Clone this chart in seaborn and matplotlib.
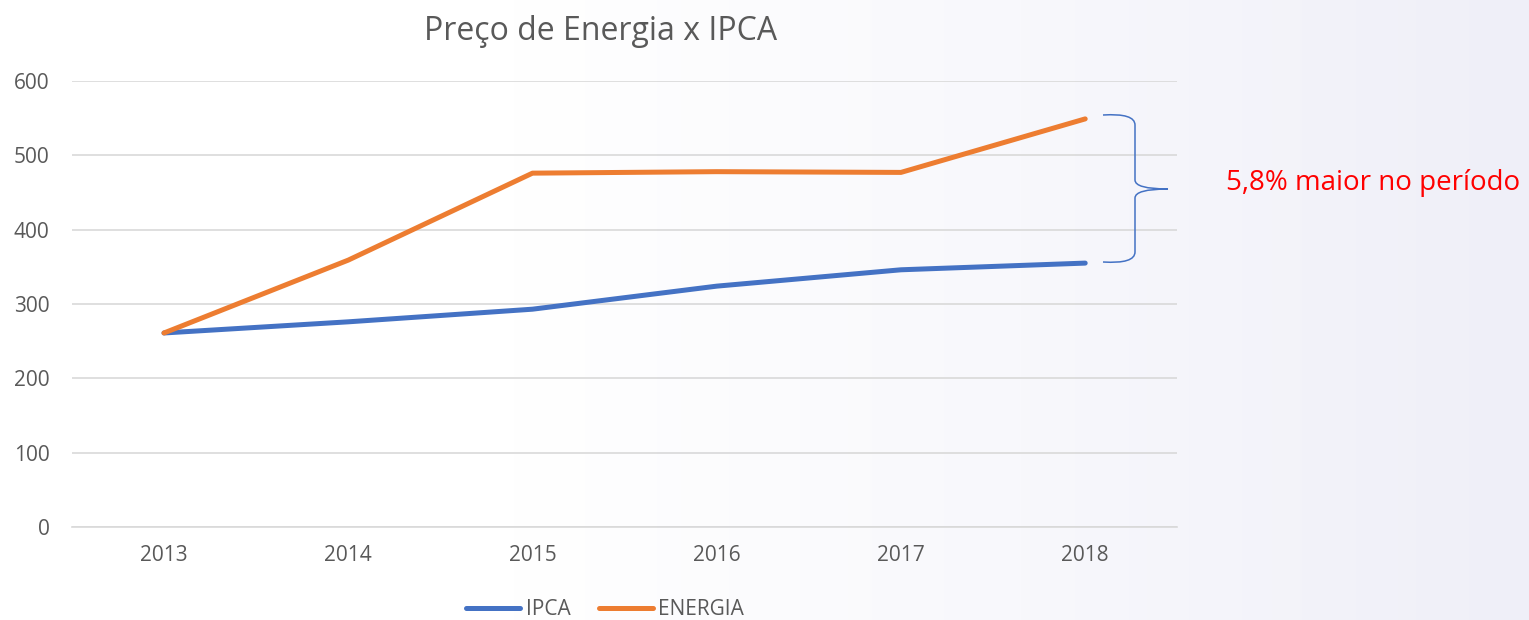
import seaborn as sns
import matplotlib.pyplot as plt
import pandas as pd
import numpy as np
from matplotlib.path import Path
from matplotlib.patches import PathPatch
from matplotlib.lines import Line2D
from matplotlib.colors import LinearSegmentedColormap

anos = ["2013", "2014", "2015", "2016", "2017", "2018"]
ipca = [261, 276, 293, 324, 346, 355]
energia = [261, 359, 476, 478, 477, 549]

df = pd.DataFrame({
    "ano": anos * 2,
    "valor": ipca + energia,
    "serie": ["IPCA"] * len(anos) + ["ENERGIA"] * len(anos),
})

sns.set_style("white")
plt.rcParams['font.family'] = ['Open Sans', 'DejaVu Sans']

fig = plt.figure(figsize=(15.29, 6.2), dpi=100)

# fundo em degradê (branco -> lilás claro)
bg = fig.add_axes([0, 0, 1, 1], zorder=-10)
grad = np.linspace(0, 1, 256)[None, :]
cmap = LinearSegmentedColormap.from_list("bg", ["#FFFFFF", "#FFFFFF", "#F8F8FC", "#EFEFF8"])
bg.imshow(grad, aspect="auto", cmap=cmap, extent=[0, 1, 0, 1])
bg.axis("off")

ax = fig.add_axes([0.047, 0.150, 0.723, 0.7194])
ax.patch.set_alpha(0)
sns.lineplot(data=df, x="ano", y="valor", hue="serie", sort=False,
             palette={"IPCA": "#4472C4", "ENERGIA": "#ED7D31"},
             linewidth=3.6, ax=ax, legend=False)
for l in ax.lines:
    l.set_solid_capstyle("round")

ax.set_xlim(-0.5, 5.5)
ax.set_ylim(0, 600)
ax.set_yticks(range(0, 601, 100))
ax.yaxis.grid(True, color="#D9D9D9", linewidth=1.2)
ax.set_axisbelow(True)
for s in ["top", "right", "left"]:
    ax.spines[s].set_visible(False)
ax.spines["bottom"].set_color("#D9D9D9")
ax.spines["bottom"].set_linewidth(1.2)
ax.tick_params(axis="both", length=0, labelsize=15, labelcolor="#595959")
ax.tick_params(axis="y", pad=16)
ax.tick_params(axis="x", pad=13)
ax.set_xlabel("")
ax.set_ylabel("")

fig.text(601 / 1529, 0.95, "Preço de Energia x IPCA", ha="center", va="center",
         fontsize=23, color="#595959")

# legenda
handles = [Line2D([], [], color="#4472C4", lw=3.6, solid_capstyle="round"),
           Line2D([], [], color="#ED7D31", lw=3.6, solid_capstyle="round")]
fig.legend(handles, ["IPCA", "ENERGIA"], loc="center", bbox_to_anchor=(605 / 1529, 0.017),
           ncol=2, frameon=False, fontsize=15, labelcolor="#595959",
           handlelength=2.6, handletextpad=0.25, columnspacing=1.35)

# chave
W, H = 1529, 620
def fp(x, y):
    return (x / W, 1 - y / H)
pts = [(1103, 115), (1135, 113), (1135, 125), (1135, 125),
       (1135, 180), (1135, 189), (1168, 189), (1135, 189), (1135, 198), (1135, 198),
       (1135, 252), (1135, 264), (1103, 262)]
codes = [Path.MOVETO, Path.CURVE3, Path.CURVE3, Path.LINETO,
         Path.LINETO, Path.CURVE3, Path.CURVE3, Path.CURVE3, Path.CURVE3, Path.LINETO,
         Path.LINETO, Path.CURVE3, Path.CURVE3]
verts = [fp(x, y) for x, y in pts]
brace = PathPatch(Path(verts, codes), facecolor="none", edgecolor="#4472C4",
                  linewidth=1.1, transform=fig.transFigure)
fig.patches.append(brace)

fig.text(1226 / W, 1 - 183 / H, "5,8% maior no período", ha="left", va="center",
         fontsize=20, color="#FF0000")

plt.savefig("out.png", dpi=100)
